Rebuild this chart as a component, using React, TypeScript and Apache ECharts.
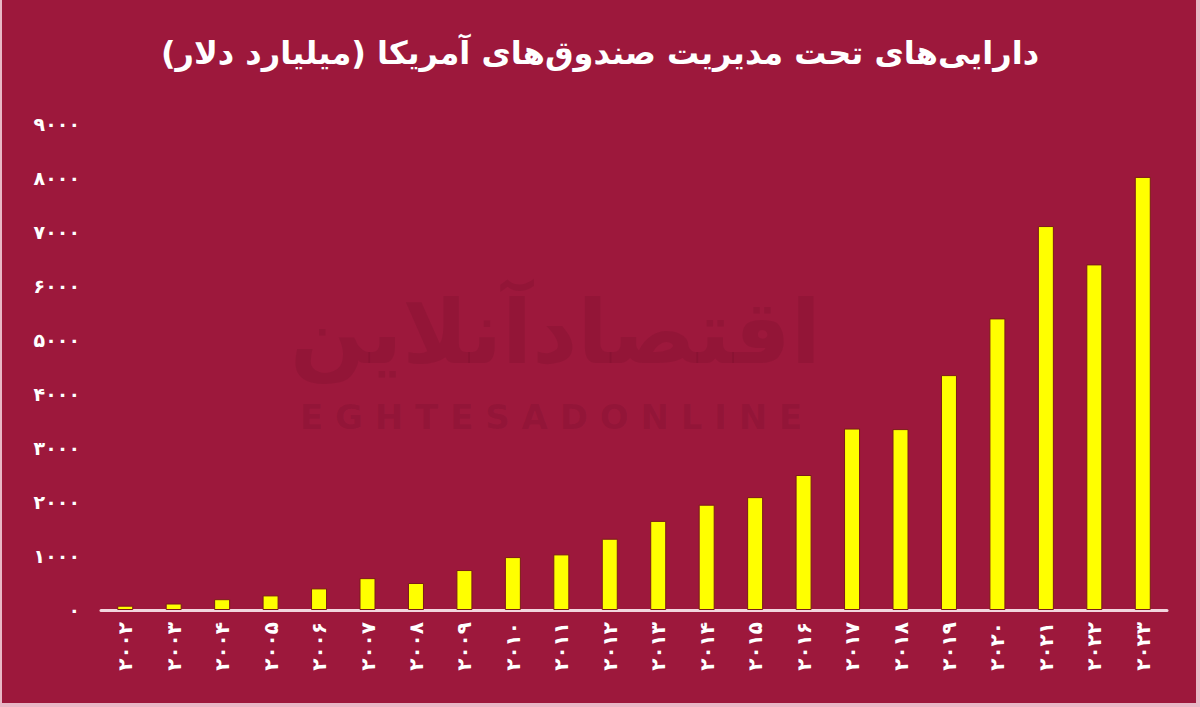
import React, { useEffect, useRef } from "react";
import * as echarts from "echarts";

const TITLE = "دارایی‌های تحت مدیریت صندوق‌های آمریکا (میلیارد دلار)";
const YEARS = [
  "۲۰۰۲", "۲۰۰۳", "۲۰۰۴", "۲۰۰۵", "۲۰۰۶", "۲۰۰۷", "۲۰۰۸", "۲۰۰۹", "۲۰۱۰", "۲۰۱۱", "۲۰۱۲",
  "۲۰۱۳", "۲۰۱۴", "۲۰۱۵", "۲۰۱۶", "۲۰۱۷", "۲۰۱۸", "۲۰۱۹", "۲۰۲۰", "۲۰۲۱", "۲۰۲۲", "۲۰۲۳",
];
const ASSETS = [
  80, 120, 200, 270, 400, 590, 500, 740, 980, 1030, 1320,
  1650, 1950, 2090, 2500, 3360, 3350, 4350, 5400, 7110, 6400, 8020,
];
const Y_MIN = 0;
const Y_MAX = 9000;
const Y_STEP = 1000;

const toFa = (v: number | string) =>
  String(v).replace(/[0-9]/g, (d) => "۰۱۲۳۴۵۶۷۸۹"[Number(d)]);

export default function App() {
  const ref = useRef<HTMLDivElement>(null);
  useEffect(() => {
    document.body.style.margin = "0";
    const chart = echarts.init(ref.current!, undefined, { renderer: "svg" });
    const white = "#ffffff";
    chart.setOption({
      animation: false,
      backgroundColor: "#9d183c",
      title: {
        text: TITLE,
        left: "center",
        top: 32,
        textStyle: {
          color: white,
          fontSize: 32,
          fontWeight: "bold",
          fontFamily: "DejaVu Sans",
        },
      },
      graphic: [
        {
          type: "text",
          left: 290,
          top: 288,
          z: 0,
          style: {
            text: "اقتصادآنلاین",
            fontSize: 88,
            fontWeight: "bold",
            fontFamily: "DejaVu Sans",
            fill: "rgba(60,0,20,0.10)",
          },
        },
        {
          type: "text",
          left: 300,
          top: 400,
          z: 0,
          style: {
            text: "E G H T E S A D O N L I N E",
            fontSize: 34,
            fontWeight: "bold",
            fontFamily: "DejaVu Sans",
            fill: "rgba(60,0,20,0.10)",
          },
        },
        { type: "rect", shape: { x: 0, y: 0, width: 2, height: 707 }, style: { fill: "#e8b8c6" } },
        { type: "rect", shape: { x: 1196, y: 0, width: 4, height: 707 }, style: { fill: "#e8b8c6" } },
        { type: "rect", shape: { x: 0, y: 703, width: 1200, height: 4 }, style: { fill: "#e8b8c6" } },
      ],
      grid: { left: 101, right: 33, top: 124, bottom: 97, containLabel: false },
      xAxis: {
        type: "category",
        data: YEARS,
        axisLine: { show: true, lineStyle: { color: "#f2d6de", width: 3 } },
        axisTick: { show: false },
        axisLabel: {
          rotate: 90,
          color: white,
          fontSize: 20,
          fontWeight: "bold",
          fontFamily: "DejaVu Sans",
          margin: 12,
          interval: 0,
        },
      },
      yAxis: {
        type: "value",
        min: Y_MIN,
        max: Y_MAX,
        interval: Y_STEP,
        axisLine: { show: false },
        axisTick: { show: false },
        splitLine: { show: false },
        axisLabel: {
          color: white,
          fontSize: 19,
          fontWeight: "bold",
          fontFamily: "DejaVu Sans",
          margin: 21,
          formatter: (v: number) => toFa(v),
        },
      },
      series: [
        {
          type: "bar",
          data: ASSETS,
          barWidth: 16,
          z: 3,
          itemStyle: { color: "#ffff00", borderColor: "#7a1a1a", borderWidth: 1 },
        },
      ],
    });
    return () => chart.dispose();
  }, []);
  return (
    <div
      ref={ref}
      style={{ position: "fixed", left: 0, top: 0, width: 1200, height: 707 }}
    />
  );
}
